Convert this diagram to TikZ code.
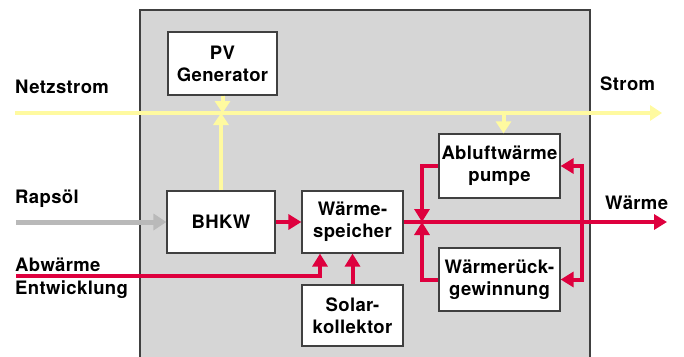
\documentclass[tikz,border=0pt]{standalone}
\usepackage{fontspec}
\setmainfont[LetterSpace=2]{TeX Gyre Heros}
\usetikzlibrary{positioning,arrows.meta}
\usepackage{xcolor}
\definecolor{rahmengrau}{RGB}{214,214,214}
\definecolor{stromgelb}{RGB}{255,250,160}
\definecolor{waermerot}{RGB}{222,0,62}
\definecolor{oelgrau}{RGB}{185,185,185}

\begin{document}
\begin{tikzpicture}[
    x=1pt, y=-1pt,
    box/.style={
        rectangle, draw=black!75, line width=1.2pt, fill=white,
        align=center, inner sep=0pt,
        font=\fontsize{18.5}{22}\selectfont\bfseries
    },
    label/.style={anchor=west, inner sep=0pt,
        font=\fontsize{18.5}{22}\selectfont\bfseries},
    strom/.style={line width=4pt, stromgelb,
        -{Triangle[length=12pt,width=15pt]}},
    waerme/.style={line width=4pt, waermerot,
        -{Triangle[length=13pt,width=15pt]}},
    oel/.style={line width=5pt, oelgrau,
        -{Triangle[length=13pt,width=16pt]}}
]
\useasboundingbox (0,0) rectangle (684,356);
\node[draw=black!75, line width=1.5pt, fill=rahmengrau,
      minimum width=450pt, minimum height=352pt, inner sep=0pt]
      (anlage) at (365,186) {};

\node[box, minimum width=109pt, minimum height=63pt] (pv) at (222.5,63.5) {PV\\Generator};
\node[box, minimum width=108pt, minimum height=62pt] (bhkw) at (221,222) {BHKW};
\node[box, minimum width=101pt, minimum height=62pt] (speicher) at (352.5,222) {Wärme-\\speicher};
\node[box, minimum width=101pt, minimum height=61pt] (solar) at (352.5,315.5) {Solar-\\kollektor};
\node[box, minimum width=121pt, minimum height=64pt] (abluft) at (499.5,166) {Abluftwärme\\pumpe};
\node[box, minimum width=121pt, minimum height=63pt] (wrg) at (499.5,279.5) {Wärmerück-\\gewinnung};

\node[label] (netzlabel) at (15,87) {Netzstrom};
\node[label] (stromlabel) at (600,84) {Strom};
\node[label] (rapslabel) at (15,199) {Rapsöl};
\node[label] (waermelabel) at (605,203) {Wärme};
\node[label] (abwlabel) at (15,265) {Abwärme};
\node[label] (entwlabel) at (15,290) {Entwicklung};

\coordinate (netzL) at (15,113);
\coordinate (netzR) at (662,113);
\coordinate (rapsL) at (16,222);
\coordinate (abwL) at (16,276);
\coordinate (waermeR) at (667,222);
\coordinate (knoten) at (422,222);
\coordinate (rueck) at (582,222);

\draw[strom] (netzL) -- (netzR);
\draw[strom] (pv.south) -- (pv.south |- netzL);
\draw[strom] (bhkw.north) -- (bhkw.north |- netzL);
\draw[strom] ([xshift=4pt]abluft.north |- netzL) -- ([xshift=4pt]abluft.north);

\draw[oel] (rapsL) -- (bhkw.west);

\draw[waerme] (bhkw.east) -- (speicher.west);
\draw[waerme] (speicher.east) -- (waermeR);
\draw[waerme] (abwL) -| ([xshift=-32.5pt]speicher.south);
\draw[waerme] (solar.north) -- (speicher.south);
\draw[waerme] (abluft.west) -| (knoten);
\draw[waerme] (wrg.west) -| (knoten);
\draw[waerme, {Triangle[length=13pt,width=15pt]}-{Triangle[length=13pt,width=15pt]}]
    (abluft.east) -| (rueck) |- (wrg.east);
\end{tikzpicture}
\end{document}
